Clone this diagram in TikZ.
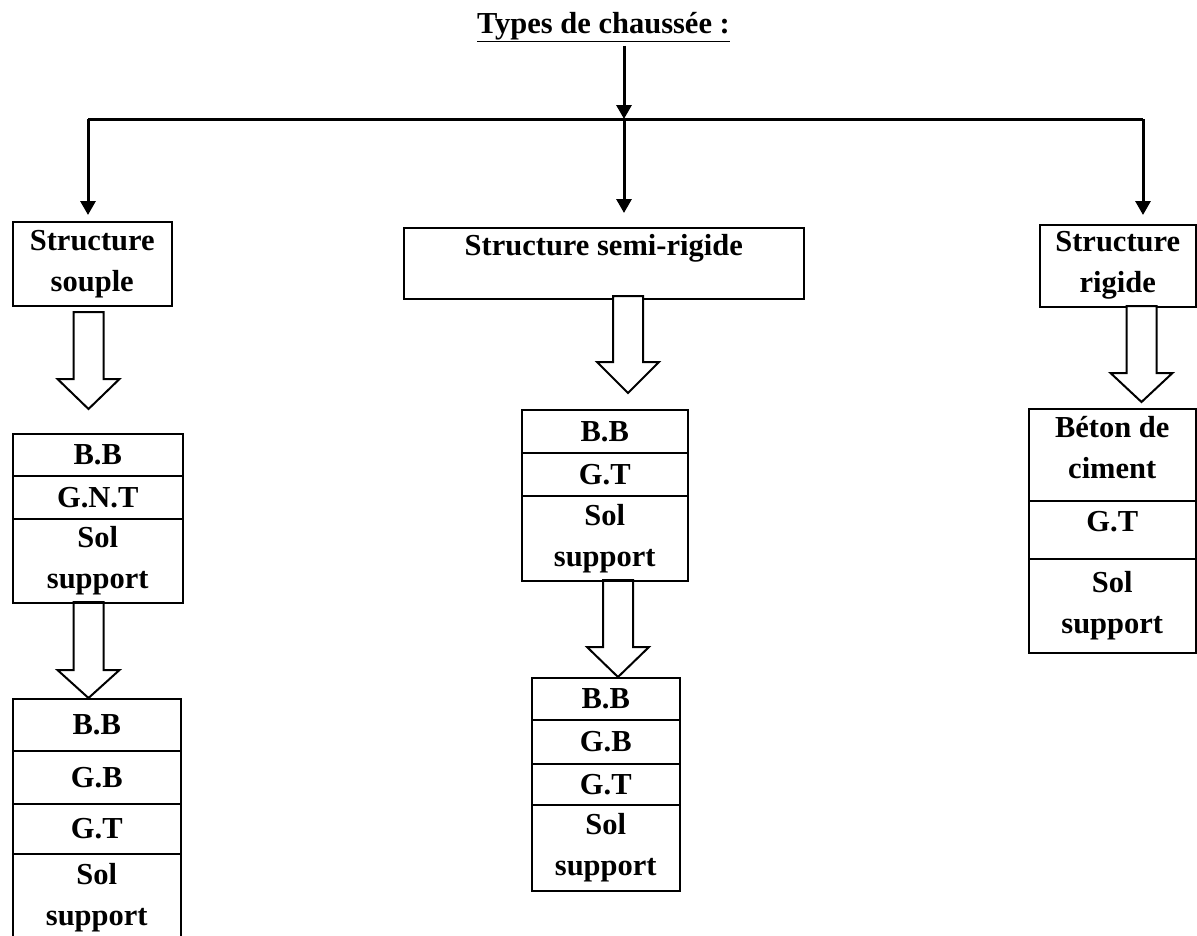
\documentclass[tikz,border=0pt]{standalone}
\usepackage{fontspec}
\setmainfont{Liberation Serif}
\usetikzlibrary{arrows.meta}
\tikzset{
  lbl/.style={font=\fontsize{30.5}{41}\selectfont\bfseries, align=center, inner sep=0pt},
  box/.style={lbl, draw, line width=1.5pt, anchor=north west},
  conn/.style={line width=3pt},
  arr/.style={conn, -{Triangle[width=15pt,length=14pt]}},
  harrow/.style={draw, fill=white, line width=2pt, line join=miter},
}
\newcommand{\hollowarrow}[4]{%
  \draw[harrow] (#1-15,#2) -- (#1+15,#2) -- (#1+15,#3) -- (#1+31,#3) -- (#1,#4) -- (#1-31,#3) -- (#1-15,#3) -- cycle;}
\begin{document}
\begin{tikzpicture}[x=1pt,y=-1pt]
\useasboundingbox (0,0) rectangle (1197,935);

% title
\node[lbl, anchor=base] (t) at (603.5,33) {\underline{Types de chaussée :}};
\coordinate (j) at (624,119);
\coordinate (jl) at (88,119);
\coordinate (jr) at (1143,119);

% top level boxes
\node[box, minimum width=159pt, minimum height=84pt] (souple) at (12,221) {Structure\\souple};
\node[box, minimum width=400pt, minimum height=71pt] (semi) at (403,227) {};
\node[lbl, anchor=base] (semitxt) at ([yshift=-28pt]semi.north) {Structure semi-rigide};
\node[box, minimum width=156pt, minimum height=82pt] (rigide) at (1039,224) {Structure\\rigide};

% connectors
\draw[conn] (jl) -- (jr);
\draw[arr] ([yshift=-4pt]t.south -| j) -- (j);
\draw[arr, shorten >=14pt] (j) -- (j |- semi.north);
\draw[arr, shorten >=6pt] (jl) -- (jl |- souple.north);
\draw[arr, shorten >=9pt] (jr) -- (jr |- rigide.north);

% hollow arrows
\hollowarrow{88.5}{312}{379}{409}
\hollowarrow{88.5}{602}{670}{698}
\hollowarrow{628}{296}{362}{393}
\hollowarrow{618}{580}{647}{677}
\hollowarrow{1141.5}{306}{373}{402}

% left column
\node[box, minimum width=170pt, minimum height=42pt] (l1a) at (12,433) {B.B};
\node[box, minimum width=170pt, minimum height=43pt] (l1b) at (12,475) {G.N.T};
\node[box, minimum width=170pt, minimum height=84pt] (l1c) at (12,518) {Sol\\support};

\node[box, minimum width=168pt, minimum height=52pt] (l2a) at (12,698) {B.B};
\node[box, minimum width=168pt, minimum height=53pt] (l2b) at (12,750) {G.B};
\node[box, minimum width=168pt, minimum height=50pt] (l2c) at (12,803) {G.T};
\node[box, minimum width=168pt, minimum height=87pt] (l2d) at (12,853) {Sol\\support};

% middle column
\node[box, minimum width=166pt, minimum height=43pt] (m1a) at (521,409) {B.B};
\node[box, minimum width=166pt, minimum height=43pt] (m1b) at (521,452) {G.T};
\node[box, minimum width=166pt, minimum height=85pt] (m1c) at (521,495) {Sol\\support};

\node[box, minimum width=148pt, minimum height=42pt] (m2a) at (531,677) {B.B};
\node[box, minimum width=148pt, minimum height=44pt] (m2b) at (531,719) {G.B};
\node[box, minimum width=148pt, minimum height=41pt] (m2c) at (531,763) {G.T};
\node[box, minimum width=148pt, minimum height=86pt] (m2d) at (531,804) {Sol\\support};

% right column
\node[box, minimum width=167pt, minimum height=92pt, text depth=14pt] (r1a) at (1028,408) {Béton de\\ciment};
\node[box, minimum width=167pt, minimum height=58pt, text depth=16pt] (r1b) at (1028,500) {G.T};
\node[box, minimum width=167pt, minimum height=94pt] (r1c) at (1028,558) {Sol\\support};
\end{tikzpicture}
\end{document}
